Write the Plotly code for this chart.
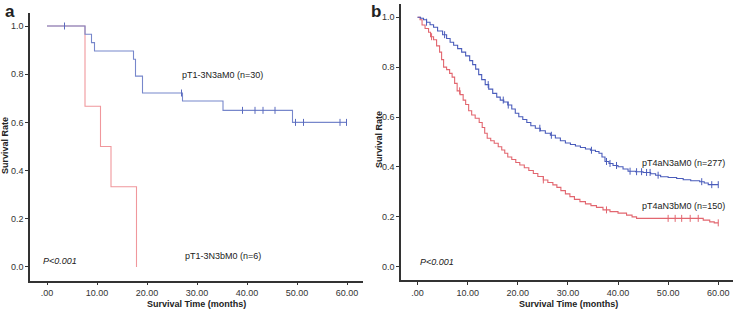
import numpy as np
import plotly.graph_objects as go

# ---------------- Panel a data ----------------
a_blue_t = [0, 7.6, 8.9, 9.5, 17.3, 17.7, 19.1, 27.1, 35.2, 49.1, 59.9]
a_blue_s = [1.0, 0.966, 0.931, 0.896, 0.862, 0.792, 0.722, 0.689, 0.650, 0.600, 0.600]
a_blue_cens = [3.5, 26.9, 39.1, 41.6, 43.2, 45.6, 49.7, 51.3, 58.6, 59.9]

a_red_t = [0, 7.6, 10.7, 12.8, 17.9, 17.9]
a_red_s = [1.0, 0.667, 0.500, 0.333, 0.0, 0.0]

# ---------------- Panel b data ----------------
b_blue_t = [0, 0.6, 1.2, 1.8, 2.5, 3.2, 4.0, 5.0, 5.8, 6.5, 7.2, 8.0, 8.8, 9.6, 10.4, 11.0,
            11.6, 12.2, 12.8, 13.5, 14.2, 15.0, 15.8, 16.5, 17.2, 18.0, 18.8, 19.5, 20.2,
            21.0, 21.8, 22.6, 23.5, 24.5, 25.5, 26.5, 27.5, 28.5, 29.5, 30.5, 31.5, 32.5,
            33.5, 34.5, 35.5, 36.2, 36.8, 37.4, 38.2, 39.0, 40.0, 41.0, 42.0, 43.5, 45.0,
            46.5, 47.5, 48.5, 50.0, 51.7, 53.0, 54.5, 56.3, 57.2, 58.0, 60.0]
b_blue_s = [1.0, 0.996, 0.99, 0.98, 0.97, 0.96, 0.945, 0.93, 0.915, 0.90, 0.888, 0.874,
            0.86, 0.845, 0.826, 0.81, 0.792, 0.77, 0.75, 0.73, 0.712, 0.695, 0.68, 0.668,
            0.66, 0.648, 0.632, 0.615, 0.601, 0.59, 0.578, 0.565, 0.555, 0.545, 0.535,
            0.527, 0.516, 0.505, 0.496, 0.49, 0.484, 0.478, 0.472, 0.467, 0.462, 0.455,
            0.44, 0.422, 0.414, 0.406, 0.401, 0.392, 0.383, 0.381, 0.378, 0.373, 0.367,
            0.361, 0.358, 0.354, 0.349, 0.345, 0.341, 0.336, 0.329, 0.329]
b_blue_cens = [1.8, 5.4, 14.1, 17.1, 18.1, 24.4, 26.7, 34.7, 37.7, 38.4, 39.7, 42.4,
               43.7, 44.7, 45.7, 46.4, 48.0, 56.7, 58.7, 60.0]

b_red_t = [0, 0.5, 0.9, 1.5, 2.2, 2.6, 3.2, 3.8, 4.4, 4.8, 5.2, 5.8, 6.4, 6.9, 7.4, 7.9,
           8.5, 9.1, 9.6, 10.2, 10.8, 11.5, 12.3, 12.9, 13.4, 13.9, 14.6, 15.3, 16.1,
           16.8, 17.4, 18.0, 18.8, 19.6, 20.4, 21.3, 22.2, 23.1, 24.0, 25.1, 26.0, 27.0,
           27.8, 28.6, 29.5, 30.4, 31.3, 32.4, 33.5, 34.6, 35.7, 37.0, 38.4, 40.0, 41.7,
           42.8, 43.7, 56.0, 57.0, 58.3, 59.2, 60.0]
b_red_s = [1.0, 0.99, 0.969, 0.955, 0.94, 0.922, 0.91, 0.885, 0.86, 0.83, 0.80, 0.79,
           0.775, 0.76, 0.735, 0.705, 0.69, 0.668, 0.65, 0.625, 0.608, 0.595, 0.578,
           0.558, 0.535, 0.515, 0.505, 0.495, 0.481, 0.468, 0.455, 0.44, 0.43, 0.418,
           0.408, 0.397, 0.386, 0.374, 0.362, 0.348, 0.338, 0.328, 0.318, 0.305, 0.292,
           0.281, 0.27, 0.261, 0.252, 0.245, 0.238, 0.228, 0.221, 0.215, 0.207, 0.2,
           0.194, 0.194, 0.187, 0.18, 0.176, 0.176]
b_red_cens = [2.8, 8.4, 25.1, 37.7, 50.0, 51.4, 52.7, 54.4, 56.0, 60.0]

x_tickvals = [0, 10, 20, 30, 40, 50, 60]
x_ticktext = [".00", "10.00", "20.00", "30.00", "40.00", "50.00", "60.00"]
y_tickvals = [0.0, 0.2, 0.4, 0.6, 0.8, 1.0]
y_ticktext = ["0.0", "0.2", "0.4", "0.6", "0.8", "1.0"]

FONT = "Arial, Liberation Sans, sans-serif"
A_BLUE, A_RED = "#7787cb", "#f0979c"
B_BLUE, B_RED = "#4a5cbb", "#e2666f"


def step_value(ts, ss, t):
    idx = np.searchsorted(np.array(ts), t, side="right") - 1
    return ss[max(idx, 0)]


fig = go.Figure()


def add_curve(ts, ss, color, xa, ya):
    fig.add_trace(go.Scatter(x=ts, y=ss, mode="lines", line=dict(color=color, width=1.1, shape="hv"),
                             xaxis=xa, yaxis=ya, showlegend=False, hoverinfo="skip"))


def add_cens(ts, ss, cens, color, xa, ya):
    ys = [step_value(ts, ss, c) for c in cens]
    fig.add_trace(go.Scatter(x=cens, y=ys, mode="markers",
                             marker=dict(symbol="line-ns", size=5, line=dict(color=color, width=1)),
                             xaxis=xa, yaxis=ya, showlegend=False, hoverinfo="skip"))


add_curve(a_red_t, a_red_s, A_RED, "x", "y")
add_curve(a_blue_t, a_blue_s, A_BLUE, "x", "y")
add_cens(a_blue_t, a_blue_s, a_blue_cens, "#5a6bbf", "x", "y")

add_curve(b_red_t, b_red_s, B_RED, "x2", "y2")
add_curve(b_blue_t, b_blue_s, B_BLUE, "x2", "y2")
add_cens(b_red_t, b_red_s, b_red_cens, B_RED, "x2", "y2")
add_cens(b_blue_t, b_blue_s, b_blue_cens, B_BLUE, "x2", "y2")

axis_common = dict(showline=True, linecolor="#333333", linewidth=1.5, ticks="outside",
                   ticklen=3, tickcolor="#333333", tickwidth=1, showgrid=False, zeroline=False,
                   tickfont=dict(family=FONT, size=9, color="#333333"), fixedrange=True)

fig.update_layout(
    width=738, height=309, margin=dict(l=0, r=0, t=0, b=0),
    paper_bgcolor="white", plot_bgcolor="white", showlegend=False,
    xaxis=dict(domain=[30 / 738, 363 / 738], range=[-3.4, 63.2], anchor="y",
               tickvals=x_tickvals, ticktext=x_ticktext, **axis_common),
    yaxis=dict(domain=[(309 - 280.7) / 309, (309 - 13) / 309], range=[-0.057, 1.054], anchor="x",
               tickvals=y_tickvals, ticktext=y_ticktext, **axis_common),
    xaxis2=dict(domain=[401 / 738, 733.3 / 738], range=[-3.3, 63], anchor="y2",
                tickvals=x_tickvals, ticktext=x_ticktext, **axis_common),
    yaxis2=dict(domain=[(309 - 280) / 309, (309 - 4) / 309], range=[-0.053, 1.053], anchor="x2",
                tickvals=y_tickvals, ticktext=y_ticktext, **axis_common),
)

ann = []
def txt(x, y, text, size=9, bold=False, italic=False, angle=0, xanchor="center"):
    s = text
    if bold:
        s = "<b>" + s + "</b>"
    if italic:
        s = "<i>" + s + "</i>"
    ann.append(dict(x=x / 738, y=1 - y / 309, xref="paper", yref="paper", text=s, showarrow=False,
                    xanchor=xanchor, yanchor="middle", textangle=angle,
                    font=dict(family=FONT, size=size, color="#222222")))

txt(10, 11, "a", size=17, bold=True)
txt(376, 11, "b", size=17, bold=True)
txt(5, 146, "Survival Rate", size=9, bold=True, angle=-90)
txt(379, 140, "Survival Rate", size=9, bold=True, angle=-90)
txt(196, 303.5, "Survival Time (months)", size=9, bold=True)
txt(568, 303.5, "Survival Time (months)", size=9, bold=True)
txt(223, 75, "pT1-3N3aM0 (n=30)", size=9)
txt(223, 256, "pT1-3N3bM0 (n=6)", size=9)
txt(60, 261, "P<0.001", size=9, italic=True)
txt(683, 163, "pT4aN3aM0 (n=277)", size=9)
txt(683, 206, "pT4aN3bM0 (n=150)", size=9)
txt(437, 262, "P<0.001", size=9, italic=True)
fig.update_layout(annotations=ann)

fig.write_html("out.html", config={"displayModeBar": False},
               post_script="document.body.style.margin='0';document.body.style.padding='0';")
